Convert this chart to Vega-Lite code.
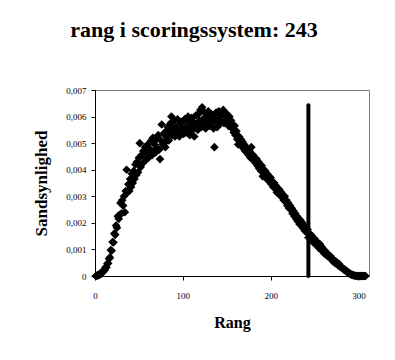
{
"$schema": "https://vega.github.io/schema/vega-lite/v6.json",
"width": 274, "height": 186,
"autosize": {"type": "none"},
"padding": {"left": 95, "top": 90, "right": 26, "bottom": 84},
"background": "white",
"title": {"text": "rang i scoringssystem:  243", "font": "Liberation Serif", "fontSize": 22, "fontWeight": "bold", "color": "black", "anchor": "middle", "dx": -38, "baseline": "alphabetic", "offset": 27},
"config": {
 "view": {"stroke": "#808080", "strokeWidth": 1},
 "axis": {"grid": false, "domainColor": "black", "tickColor": "black", "labelColor": "black", "titleColor": "black", "labelFont": "Liberation Serif", "titleFont": "Liberation Serif", "labelFontSize": 9, "tickSize": 4, "titleFontWeight": "bold", "labelFlush": false, "labelOverlap": false}
},
"datasets": {
"pts": [
{"x":1,"y":0},{"x":2,"y":0.00002},{"x":3,"y":0.00001},{"x":4,"y":0.00005},{"x":5,"y":0.00004},{"x":6,"y":0.00009},{"x":7,"y":0.00008},{"x":8,"y":0.00014},{"x":9,"y":0.00015},{"x":10,"y":0.00023},
{"x":11,"y":0.00022},{"x":12,"y":0.00033},{"x":13,"y":0.00032},{"x":14,"y":0.00046},{"x":15,"y":0.00048},{"x":16,"y":0.00065},{"x":17,"y":0.0007},{"x":18,"y":0.00098},{"x":19,"y":0.00095},{"x":20,"y":0.00128},
{"x":21,"y":0.00126},{"x":22,"y":0.0016},{"x":23,"y":0.00155},{"x":24,"y":0.0019},{"x":25,"y":0.00182},{"x":26,"y":0.00225},{"x":27,"y":0.00215},{"x":28,"y":0.0023},{"x":29,"y":0.00275},{"x":30,"y":0.00235},
{"x":31,"y":0.00285},{"x":32,"y":0.00265},{"x":33,"y":0.003},{"x":34,"y":0.0024},{"x":35,"y":0.0032},{"x":36,"y":0.004},{"x":37,"y":0.00315},{"x":38,"y":0.00345},{"x":39,"y":0.0032},{"x":40,"y":0.00365},
{"x":41,"y":0.00335},{"x":42,"y":0.00385},{"x":43,"y":0.0035},{"x":44,"y":0.00395},{"x":45,"y":0.00365},{"x":46,"y":0.0042},{"x":47,"y":0.0038},{"x":48,"y":0.0043},{"x":49,"y":0.0039},{"x":50,"y":0.00445},
{"x":51,"y":0.005},{"x":52,"y":0.0041},{"x":53,"y":0.00455},{"x":54,"y":0.00425},{"x":55,"y":0.0047},{"x":56,"y":0.0043},{"x":57,"y":0.00485},{"x":58,"y":0.0044},{"x":59,"y":0.00465},{"x":60,"y":0.00495},
{"x":61,"y":0.00445},{"x":62,"y":0.0048},{"x":63,"y":0.0046},{"x":64,"y":0.0051},{"x":65,"y":0.00455},{"x":66,"y":0.0052},{"x":67,"y":0.0047},{"x":68,"y":0.00495},{"x":69,"y":0.00465},{"x":70,"y":0.00515},
{"x":71,"y":0.0048},{"x":72,"y":0.0053},{"x":73,"y":0.00475},{"x":74,"y":0.0044},{"x":75,"y":0.0051},{"x":76,"y":0.0057},{"x":77,"y":0.00495},{"x":78,"y":0.00535},{"x":79,"y":0.005},{"x":80,"y":0.00485},
{"x":81,"y":0.00545},{"x":82,"y":0.0052},{"x":83,"y":0.0056},{"x":84,"y":0.0051},{"x":85,"y":0.0054},{"x":86,"y":0.00575},{"x":87,"y":0.006},{"x":88,"y":0.0053},{"x":89,"y":0.00555},{"x":90,"y":0.00585},
{"x":91,"y":0.00525},{"x":92,"y":0.0056},{"x":93,"y":0.0054},{"x":94,"y":0.0059},{"x":95,"y":0.0055},{"x":96,"y":0.00525},{"x":97,"y":0.00575},{"x":98,"y":0.00545},{"x":99,"y":0.0058},{"x":100,"y":0.00555},
{"x":101,"y":0.00535},{"x":102,"y":0.0059},{"x":103,"y":0.0056},{"x":104,"y":0.0054},{"x":105,"y":0.00585},{"x":106,"y":0.006},{"x":107,"y":0.00555},{"x":108,"y":0.0053},{"x":109,"y":0.00575},{"x":110,"y":0.00595},
{"x":111,"y":0.0055},{"x":112,"y":0.0058},{"x":113,"y":0.00525},{"x":114,"y":0.00565},{"x":115,"y":0.00605},{"x":116,"y":0.0057},{"x":117,"y":0.0055},{"x":118,"y":0.0061},{"x":119,"y":0.00585},{"x":120,"y":0.00625},
{"x":121,"y":0.0056},{"x":122,"y":0.00635},{"x":123,"y":0.0059},{"x":124,"y":0.0057},{"x":125,"y":0.00615},{"x":126,"y":0.00555},{"x":127,"y":0.006},{"x":128,"y":0.0058},{"x":129,"y":0.0062},{"x":130,"y":0.00565},
{"x":131,"y":0.00595},{"x":132,"y":0.0061},{"x":133,"y":0.00575},{"x":134,"y":0.00605},{"x":135,"y":0.00555},{"x":136,"y":0.00485},{"x":137,"y":0.00585},{"x":138,"y":0.00615},{"x":139,"y":0.0056},{"x":140,"y":0.0059},
{"x":141,"y":0.0062},{"x":142,"y":0.0057},{"x":143,"y":0.00605},{"x":144,"y":0.0058},{"x":145,"y":0.0061},{"x":146,"y":0.00625},{"x":147,"y":0.00575},{"x":148,"y":0.006},{"x":149,"y":0.00585},{"x":150,"y":0.0061},
{"x":151,"y":0.0059},{"x":152,"y":0.00565},{"x":153,"y":0.006},{"x":154,"y":0.00575},{"x":155,"y":0.00585},{"x":156,"y":0.00555},{"x":157,"y":0.0057},{"x":158,"y":0.0054},{"x":159,"y":0.00565},{"x":160,"y":0.0053},
{"x":161,"y":0.00545},{"x":162,"y":0.00515},{"x":163,"y":0.00495},{"x":164,"y":0.00525},{"x":165,"y":0.00505},{"x":166,"y":0.00515},{"x":167,"y":0.0049},{"x":168,"y":0.00505},{"x":169,"y":0.0048},{"x":170,"y":0.00495},
{"x":171,"y":0.0047},{"x":172,"y":0.00485},{"x":173,"y":0.00465},{"x":174,"y":0.00475},{"x":175,"y":0.00455},{"x":176,"y":0.0047},{"x":177,"y":0.00445},{"x":178,"y":0.00485},{"x":179,"y":0.0044},{"x":180,"y":0.00455},
{"x":181,"y":0.00435},{"x":182,"y":0.00445},{"x":183,"y":0.00425},{"x":184,"y":0.0044},{"x":185,"y":0.00415},{"x":186,"y":0.0043},{"x":187,"y":0.00405},{"x":188,"y":0.0042},{"x":189,"y":0.00395},{"x":190,"y":0.00415},
{"x":191,"y":0.00375},{"x":192,"y":0.004},{"x":193,"y":0.00385},{"x":194,"y":0.00395},{"x":195,"y":0.0037},{"x":196,"y":0.00385},{"x":197,"y":0.0036},{"x":198,"y":0.00375},{"x":199,"y":0.00355},{"x":200,"y":0.0037},
{"x":201,"y":0.00345},{"x":202,"y":0.00355},{"x":203,"y":0.00335},{"x":204,"y":0.0035},{"x":205,"y":0.0033},{"x":206,"y":0.0034},{"x":207,"y":0.00315},{"x":208,"y":0.0033},{"x":209,"y":0.0031},{"x":210,"y":0.00325},
{"x":211,"y":0.00305},{"x":212,"y":0.00315},{"x":213,"y":0.00295},{"x":214,"y":0.00305},{"x":215,"y":0.00285},{"x":216,"y":0.003},{"x":217,"y":0.0028},{"x":218,"y":0.00285},{"x":219,"y":0.00265},{"x":220,"y":0.00275},
{"x":221,"y":0.00255},{"x":222,"y":0.00265},{"x":223,"y":0.0025},{"x":224,"y":0.00255},{"x":225,"y":0.00235},{"x":226,"y":0.00245},{"x":227,"y":0.00225},{"x":228,"y":0.00235},{"x":229,"y":0.00215},{"x":230,"y":0.00225},
{"x":231,"y":0.00205},{"x":232,"y":0.00215},{"x":233,"y":0.00195},{"x":234,"y":0.0021},{"x":235,"y":0.0019},{"x":236,"y":0.002},{"x":237,"y":0.0018},{"x":238,"y":0.0019},{"x":239,"y":0.0017},{"x":240,"y":0.0018},
{"x":241,"y":0.00165},{"x":242,"y":0.00175},{"x":243,"y":0.00145},{"x":244,"y":0.0016},{"x":245,"y":0.00145},{"x":246,"y":0.00155},{"x":247,"y":0.00135},{"x":248,"y":0.00145},{"x":249,"y":0.00125},{"x":250,"y":0.0014},
{"x":251,"y":0.0012},{"x":252,"y":0.0013},{"x":253,"y":0.00115},{"x":254,"y":0.00125},{"x":255,"y":0.00105},{"x":256,"y":0.0012},{"x":257,"y":0.001},{"x":258,"y":0.0011},{"x":259,"y":0.00095},{"x":260,"y":0.001},
{"x":261,"y":0.00085},{"x":262,"y":0.00095},{"x":263,"y":0.0008},{"x":264,"y":0.00085},{"x":265,"y":0.00075},{"x":266,"y":0.0008},{"x":267,"y":0.0007},{"x":268,"y":0.00075},{"x":269,"y":0.00065},{"x":270,"y":0.00065},
{"x":271,"y":0.00055},{"x":272,"y":0.0006},{"x":273,"y":0.0005},{"x":274,"y":0.00055},{"x":275,"y":0.00045},{"x":276,"y":0.0005},{"x":277,"y":0.0004},{"x":278,"y":0.00045},{"x":279,"y":0.00035},{"x":280,"y":0.00035},
{"x":281,"y":0.0003},{"x":282,"y":0.0003},{"x":283,"y":0.00025},{"x":284,"y":0.00025},{"x":285,"y":0.0002},{"x":286,"y":0.0002},{"x":287,"y":0.00015},{"x":288,"y":0.00015},{"x":289,"y":0.0001},{"x":290,"y":0.0001},
{"x":291,"y":0.00007},{"x":292,"y":0.00005},{"x":293,"y":0.00004},{"x":294,"y":0.00003},{"x":295,"y":0.00002},{"x":296,"y":0.00001},{"x":297,"y":0.00001},{"x":298,"y":0},{"x":299,"y":0},{"x":300,"y":0},
{"x":301,"y":0},{"x":302,"y":0},{"x":303,"y":0},{"x":304,"y":0},{"x":305,"y":0},{"x":306,"y":0},{"x":307,"y":0},{"x":308,"y":0}
],
"marker": [{"x": 243, "y": 0, "y2": 0.00643}]
},
"encoding": {
  "x": {"field": "x", "type": "quantitative", "scale": {"domain": [0, 312], "nice": false, "zero": false},
        "axis": {"values": [0, 100, 200, 300], "title": "Rang", "titleFontSize": 16, "titlePadding": 14, "labelPadding": 11, "labelOverlap": false}},
  "y": {"field": "y", "type": "quantitative", "scale": {"domain": [0, 0.007], "nice": false},
        "axis": {"values": [0, 0.001, 0.002, 0.003, 0.004, 0.005, 0.006, 0.007], "labelExpr": "datum.value == 0 ? '0' : replace(format(datum.value, '.3f'), '.', ',')", "title": "Sandsynlighed", "titleFontSize": 17, "titlePadding": 15, "labelPadding": 5, "labelOverlap": false, "labelBound": false}}
},
"layer": [
{
 "data": {"name": "pts"},
 "mark": {"type": "point", "shape": "diamond", "filled": true, "color": "black", "size": 75, "opacity": 1}
},
{
 "data": {"name": "marker"},
 "mark": {"type": "rule", "color": "black", "strokeWidth": 4, "strokeCap": "round"},
 "encoding": {
  "y2": {"field": "y2"}
 }
}
]
}
